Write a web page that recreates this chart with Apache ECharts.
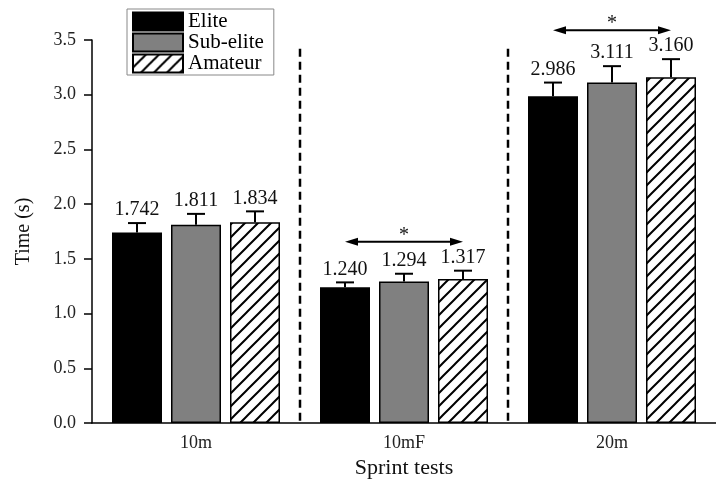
<!DOCTYPE html>
<html>
<head>
<meta charset="utf-8">
<script src="https://cdn.jsdelivr.net/npm/echarts@6/dist/echarts.min.js"></script>
<style>
  html, body { margin: 0; padding: 0; background: #fff; }
  #chart { width: 716px; height: 489px; }
</style>
</head>
<body>
<div id="chart"></div>
<script>
// data
const categories = ["10m", "10mF", "20m"];
const groupNames = ["Elite", "Sub-elite", "Amateur"];
const eliteMeans = [1.742, 1.240, 2.986];
const subEliteMeans = [1.811, 1.294, 3.111];
const amateurMeans = [1.834, 1.317, 3.160];
const eliteSD = [0.085, 0.045, 0.125];
const subEliteSD = [0.10, 0.07, 0.15];
const amateurSD = [0.10, 0.075, 0.165];
const yTicks = [0, 0.5, 1, 1.5, 2, 2.5, 3, 3.5];
// significance arrows (category index, height) and separator lines
const sigCats = [1, 2];
const sigHeights = [1.657, 3.59];
const separatorAfter = [0, 1];
const separatorTop = 3.42;

const FONT = "'Liberation Serif', 'Times New Roman', serif";
const BAR_W = 50;
const BAR_GAP = 9;

// hatch pattern for amateur bars
function makeHatch() {
  const s = 13;
  const c = document.createElement("canvas");
  c.width = s;
  c.height = s;
  const ctx = c.getContext("2d");
  ctx.fillStyle = "#fff";
  ctx.fillRect(0, 0, s, s);
  ctx.strokeStyle = "#000";
  ctx.lineWidth = 2;
  ctx.beginPath();
  ctx.moveTo(-2, s + 2); ctx.lineTo(s + 2, -2);
  ctx.moveTo(-2, 2); ctx.lineTo(2, -2);
  ctx.moveTo(s - 2, s + 2); ctx.lineTo(s + 2, s - 2);
  ctx.stroke();
  return c;
}

const means = [eliteMeans, subEliteMeans, amateurMeans];
const sds = [eliteSD, subEliteSD, amateurSD];
const fills = ["#000", "#808080", { image: makeHatch(), repeat: "repeat" }];

const errData = [];
means.forEach(function (arr, g) {
  arr.forEach(function (v, i) {
    errData.push([i, v, sds[g][i], g]);
  });
});

const chart = echarts.init(document.getElementById("chart"));

const barSeries = groupNames.map(function (name, g) {
  return {
    name: name,
    type: "bar",
    data: means[g],
    barWidth: BAR_W,
    barGap: (BAR_GAP / BAR_W * 100) + "%",
    itemStyle: { color: fills[g], borderColor: "#000", borderWidth: 1.5 },
    z: 2
  };
});

chart.setOption({
  animation: false,
  textStyle: { fontFamily: FONT },
  grid: { left: 92, right: 0, top: 40, bottom: 66 },
  legend: {
    orient: "vertical",
    left: 127,
    top: 9,
    icon: "rect",
    itemWidth: 50,
    itemHeight: 18,
    itemGap: 0,
    padding: [2, 10, 1, 5],
    borderColor: "#888",
    borderWidth: 1,
    textStyle: { fontFamily: FONT, fontSize: 21, lineHeight: 18, color: "#000" },
    data: groupNames
  },
  xAxis: {
    type: "category",
    data: categories,
    name: "Sprint tests",
    nameLocation: "middle",
    nameGap: 34,
    nameTextStyle: { fontFamily: FONT, fontSize: 22, color: "#111" },
    axisLine: { lineStyle: { color: "#000", width: 1.5 } },
    axisTick: { alignWithLabel: true, length: 6, lineStyle: { color: "#000", width: 1.5 } },
    axisLabel: { fontFamily: FONT, fontSize: 18, color: "#222", margin: 11 }
  },
  yAxis: {
    type: "value",
    min: yTicks[0],
    max: yTicks[yTicks.length - 1],
    interval: 0.5,
    name: "Time (s)",
    nameLocation: "middle",
    nameGap: 58,
    nameTextStyle: { fontFamily: FONT, fontSize: 20, color: "#111" },
    axisLine: { show: true, lineStyle: { color: "#000", width: 1.5 } },
    axisTick: { show: true, length: 8, lineStyle: { color: "#000", width: 1.5 } },
    axisLabel: {
      fontFamily: FONT, fontSize: 18, color: "#222", margin: 16,
      formatter: function (v) { return v.toFixed(1); }
    },
    splitLine: { show: false }
  },
  series: barSeries.concat([
    {
      // dashed separators between test groups
      type: "custom",
      data: separatorAfter.map(function (i) { return [i, separatorTop]; }),
      silent: true,
      z: 1,
      renderItem: function (params, api) {
        const band = api.size([1, 0])[0];
        const top = api.coord([api.value(0), api.value(1)]);
        const bottom = api.coord([api.value(0), 0]);
        const x = top[0] + band / 2;
        return {
          type: "line",
          shape: { x1: x, y1: top[1], x2: x, y2: bottom[1] },
          style: { stroke: "#000", lineWidth: 2.5, lineDash: [8, 5] }
        };
      }
    },
    {
      // error bars with value labels
      type: "custom",
      data: errData,
      silent: true,
      z: 3,
      renderItem: function (params, api) {
        const g = api.value(3);
        const mean = api.value(1);
        const sd = api.value(2);
        const off = (g - 1) * (BAR_W + BAR_GAP);
        const p0 = api.coord([api.value(0), mean]);
        const p1 = api.coord([api.value(0), mean + sd]);
        const x = p0[0] + off;
        const ls = { stroke: "#000", lineWidth: 2 };
        return {
          type: "group",
          children: [
            { type: "line", shape: { x1: x, y1: p0[1], x2: x, y2: p1[1] }, style: ls },
            { type: "line", shape: { x1: x - 9, y1: p1[1], x2: x + 9, y2: p1[1] }, style: ls },
            {
              type: "text", x: x, y: p1[1] - 3,
              style: {
                text: mean.toFixed(3), align: "center", verticalAlign: "bottom",
                font: "20px " + FONT, fill: "#111"
              }
            }
          ]
        };
      }
    },
    {
      // significance arrows
      type: "custom",
      data: sigCats.map(function (c, i) { return [c, sigHeights[i]]; }),
      silent: true,
      z: 3,
      renderItem: function (params, api) {
        const p = api.coord([api.value(0), api.value(1)]);
        const span = BAR_W + BAR_GAP;
        const x1 = p[0] - span, x2 = p[0] + span, y = p[1];
        const head = 13, hw = 4;
        return {
          type: "group",
          children: [
            { type: "line", shape: { x1: x1 + head - 2, y1: y, x2: x2 - head + 2, y2: y }, style: { stroke: "#000", lineWidth: 2 } },
            { type: "polygon", shape: { points: [[x1, y], [x1 + head, y - hw], [x1 + head, y + hw]] }, style: { fill: "#000" } },
            { type: "polygon", shape: { points: [[x2, y], [x2 - head, y - hw], [x2 - head, y + hw]] }, style: { fill: "#000" } },
            {
              type: "text", x: p[0], y: y + 4,
              style: { text: "*", align: "center", verticalAlign: "bottom", font: "20px " + FONT, fill: "#111" }
            }
          ]
        };
      }
    }
  ])
});
</script>
</body>
</html>
